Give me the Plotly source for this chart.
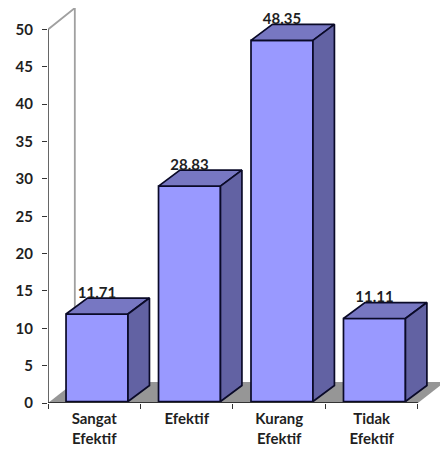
import plotly.graph_objects as go

categories = ["Sangat<br>Efektif", "Efektif", "Kurang<br>Efektif", "Tidak<br>Efektif"]
values = [11.71, 28.83, 48.35, 11.11]
value_labels = ["11.71", "28.83", "48.35", "11.11"]
y_ticks = [0, 5, 10, 15, 20, 25, 30, 35, 40, 45, 50]

BAR_W = 0.67
BAR_SHIFT = 0.03
BAR_LIFT = 0.2
BAR_DX, BAR_DY = 0.232, 2.14
WALL_DX, WALL_DY = 0.29, 2.8
PX_PER_CAT, PX_PER_UNIT = 92.6, 7.47
FONT = "Lato"
INK = "#1f1f1f"
EDGE = "#0a0a28"

centers = [i + 0.5 for i in range(len(values))]
bar_x = [c + BAR_SHIFT for c in centers]
fig = go.Figure()

for c, v in zip(bar_x, values):
    l, r = c - BAR_W / 2, c + BAR_W / 2
    b, t = BAR_LIFT, v + BAR_LIFT
    fig.add_trace(go.Scatter(
        x=[l, r, r + BAR_DX, l + BAR_DX, l], y=[t, t, t + BAR_DY, t + BAR_DY, t],
        mode="lines", fill="toself", fillcolor="#7777C2",
        line=dict(color=EDGE, width=1.7), hoverinfo="skip", cliponaxis=False))
    fig.add_trace(go.Scatter(
        x=[r, r + BAR_DX, r + BAR_DX, r, r], y=[b, b + BAR_DY, t + BAR_DY, t, b],
        mode="lines", fill="toself", fillcolor="#6262A3",
        line=dict(color=EDGE, width=1.7), hoverinfo="skip", cliponaxis=False))

fig.add_trace(go.Bar(
    x=bar_x, y=values, base=BAR_LIFT, width=BAR_W,
    marker=dict(color="#9999FF", line=dict(color=EDGE, width=1.7))))

# axis lines
fig.add_trace(go.Scatter(x=[0, 0], y=[0, 50], mode="lines",
                         line=dict(color="#333333", width=1.5), hoverinfo="skip", cliponaxis=False))
fig.add_trace(go.Scatter(x=[0, 4], y=[0, 0], mode="lines",
                         line=dict(color="#333333", width=2), hoverinfo="skip", cliponaxis=False))

fig.add_trace(go.Scatter(
    x=bar_x, y=[v + 2.85 for v in values], text=value_labels, mode="text",
    textposition="middle center", textfont=dict(family=FONT, size=15, color=INK, weight="bold"),
    hoverinfo="skip", cliponaxis=False))

fig.update_layout(
    width=432, height=446, autosize=False, showlegend=False,
    paper_bgcolor="white", plot_bgcolor="white",
    margin=dict(l=39.5, r=0, t=0, b=51),
    font=dict(family=FONT, size=15, color=INK),
    shapes=[
        dict(type="path", layer="below", xref="x", yref="y",
             path=f"M 0 0 L {WALL_DX} {WALL_DY} L {4 + WALL_DX} {WALL_DY} L 4 0 Z",
             fillcolor="#969696", line=dict(width=0)),
        dict(type="path", layer="below", xref="x", yref="y",
             path=f"M 0 50 L {WALL_DX} {50 + 2.88} L {WALL_DX} {WALL_DY}",
             line=dict(color="#a0a0a0", width=1.8)),
    ],
    xaxis=dict(
        range=[0, 392.5 / PX_PER_CAT], tickmode="array", tickvals=centers, ticktext=categories,
        ticks="", showgrid=False, zeroline=False, showline=False, ticklabelstandoff=5,
        tickfont=dict(family=FONT, size=15, color=INK, weight="bold"),
        minor=dict(tickmode="array", tickvals=[0, 1, 2, 3, 4], ticks="outside", ticklen=5,
                   tickcolor="#333333", tickwidth=1, showgrid=False),
    ),
    yaxis=dict(
        range=[0, 395 / PX_PER_UNIT], tickmode="array", tickvals=y_ticks,
        ticks="outside", ticklen=5, tickcolor="#333333", tickwidth=1,
        showgrid=False, zeroline=False, showline=False, ticklabelstandoff=6,
        tickfont=dict(family=FONT, size=15, color=INK, weight="bold"),
    ),
)

fig.write_html("out.html", default_width="432px", default_height="446px",
               post_script="document.documentElement.style.overflow='hidden';document.documentElement.style.width='450px';document.body.style.width='432px';")
